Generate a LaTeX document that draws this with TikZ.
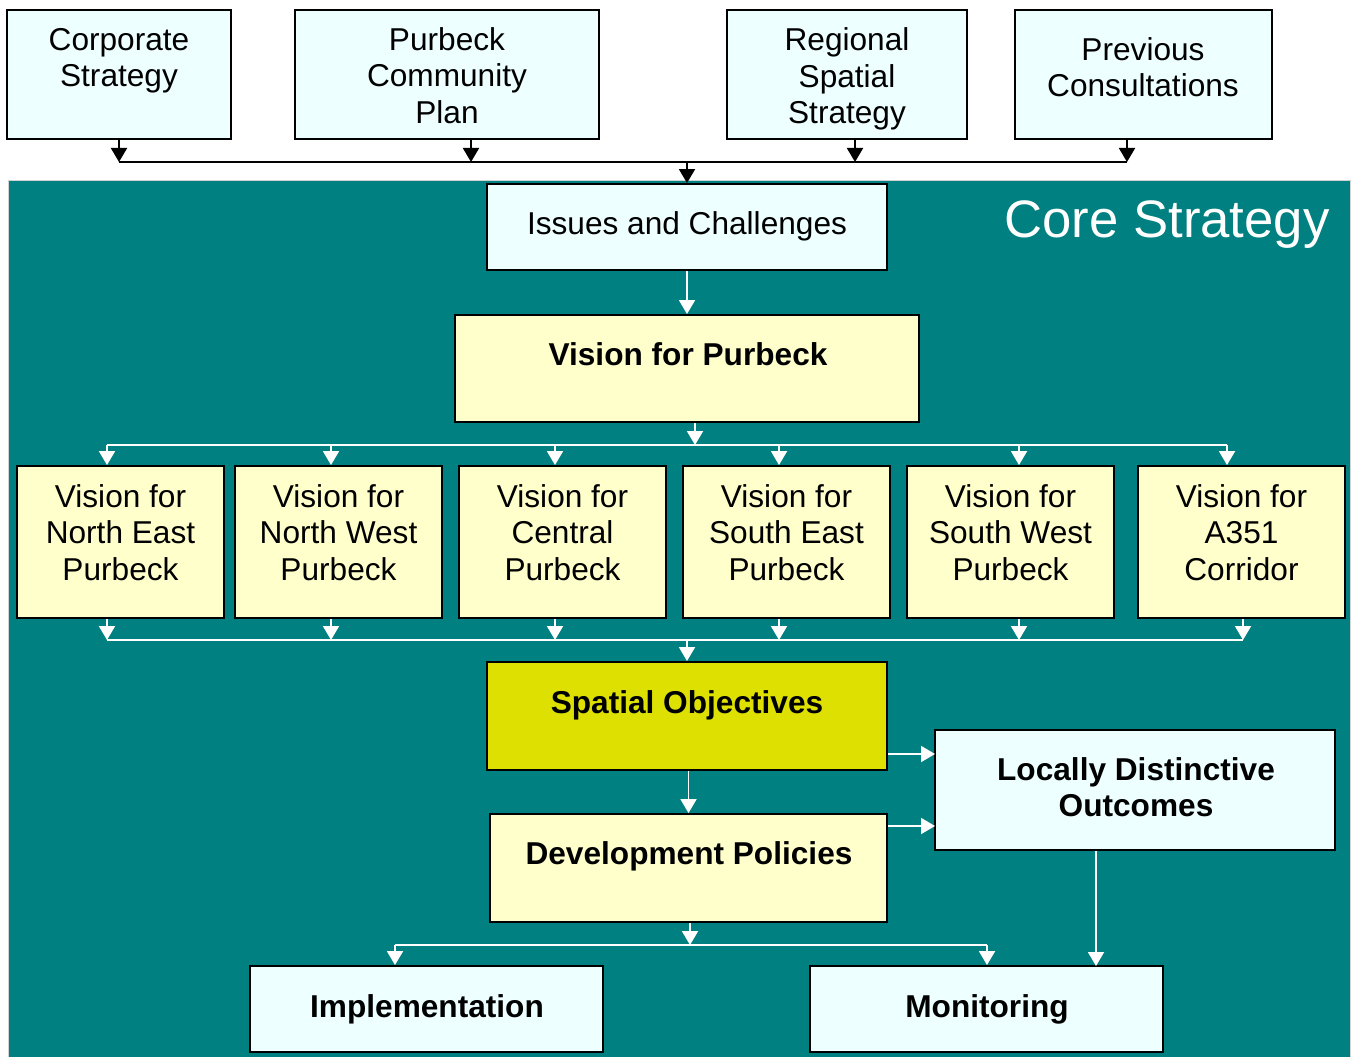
\documentclass[tikz,border=0pt]{standalone}
\usepackage{fontspec}
\setmainfont{Liberation Sans}
\usetikzlibrary{arrows.meta}

\definecolor{coreteal}{HTML}{008080}
\definecolor{paleblue}{HTML}{EEFFFF}
\definecolor{paleyellow}{HTML}{FFFFCC}
\definecolor{objgreen}{HTML}{DDE000}

\begin{document}
\begin{tikzpicture}[x=0.02cm, y=-0.02cm,
	box/.style={draw=black, line width=1.1pt, inner sep=0pt},
	bluebox/.style={box, fill=paleblue},
	yellowbox/.style={box, fill=paleyellow},
	txt/.style={align=center, inner sep=0pt, font=\fontsize{18}{20.8}\selectfont},
	btxt/.style={txt, font=\fontsize{18}{20.8}\selectfont\bfseries},
	blk/.style={black, line width=1.1pt},
	blkarrow/.style={blk, -{Triangle[width=0.32cm,length=0.28cm]}},
	wht/.style={white, line width=1.1pt},
	whtarrow/.style={wht, -{Triangle[width=0.32cm,length=0.28cm]}}]
	%\draw[help lines] (0,0) grid[step=1cm] (1355,1057);
	\useasboundingbox (0,0) rectangle (1355,1057);
	\fill[coreteal, draw=gray!35, line width=0.4pt] (8,180) rectangle (1350,1057);
	\node[txt, text=white, font=\fontsize{30}{34}\selectfont] (coretitle) at (1167,224.5) {Core Strategy};

	% inputs
	\node[bluebox, minimum width=4.48cm, minimum height=2.58cm] (corp) at (119,74.5) {};
	\node[bluebox, minimum width=6.08cm, minimum height=2.58cm] (pcp) at (447,74.5) {};
	\node[bluebox, minimum width=4.8cm, minimum height=2.58cm] (rss) at (847,74.5) {};
	\node[bluebox, minimum width=5.14cm, minimum height=2.58cm] (prev) at (1143.5,74.5) {};
	\node[txt] (corpT) at (119,60.6) {Corporate\\Strategy};
	\node[txt] (pcpT) at (447,75.6) {Purbeck\\Community\\Plan};
	\node[txt] (rssT) at (847,78.9) {Regional\\Spatial\\Strategy};
	\node[txt] (prevT) at (1143,67.3) {Previous\\Consultations};

	% core boxes
	\node[bluebox, minimum width=8cm, minimum height=1.72cm] (issues) at (687,227) {};
	\node[txt] (issuesT) at (687,226.4) {Issues and Challenges};
	\node[yellowbox, minimum width=9.28cm, minimum height=2.14cm] (vision) at (687,368.5) {};
	\node[btxt] (visionT) at (688,354) {Vision for Purbeck};

	% area visions
	\node[yellowbox, minimum width=4.14cm, minimum height=3.04cm] (ne) at (120.5,542) {};
	\node[yellowbox, minimum width=4.14cm, minimum height=3.04cm] (nw) at (338.5,542) {};
	\node[yellowbox, minimum width=4.14cm, minimum height=3.04cm] (central) at (562.5,542) {};
	\node[yellowbox, minimum width=4.14cm, minimum height=3.04cm] (se) at (786.5,542) {};
	\node[yellowbox, minimum width=4.14cm, minimum height=3.04cm] (sw) at (1010.5,542) {};
	\node[yellowbox, minimum width=4.14cm, minimum height=3.04cm] (a351) at (1241.5,542) {};
	\node[txt] (neT) at (120.5,532.5) {Vision for\\North East\\Purbeck};
	\node[txt] (nwT) at (338.5,532.5) {Vision for\\North West\\Purbeck};
	\node[txt] (centralT) at (562.5,532.5) {Vision for\\Central\\Purbeck};
	\node[txt] (seT) at (786.5,532.5) {Vision for\\South East\\Purbeck};
	\node[txt] (swT) at (1010.5,532.5) {Vision for\\South West\\Purbeck};
	\node[txt] (a351T) at (1241.5,532.5) {Vision for\\A351\\Corridor};

	\node[box, fill=objgreen, minimum width=8cm, minimum height=2.16cm] (spatial) at (687,716) {};
	\node[btxt] (spatialT) at (687,705.4) {Spatial Objectives};
	\node[yellowbox, minimum width=7.94cm, minimum height=2.16cm] (dev) at (688.5,868) {};
	\node[btxt] (devT) at (689,856.4) {Development Policies};
	\node[bluebox, minimum width=8cm, minimum height=2.4cm] (local) at (1135,790) {};
	\node[btxt] (localT) at (1136,787.3) {Locally Distinctive\\Outcomes};
	\node[bluebox, minimum width=7.06cm, minimum height=1.72cm] (impl) at (426.5,1009) {};
	\node[btxt] (implT) at (427,1009.4) {Implementation};
	\node[bluebox, minimum width=7.06cm, minimum height=1.72cm] (mon) at (986.5,1009) {};
	\node[btxt] (monT) at (987,1009.4) {Monitoring};

	% bus points
	\coordinate (top1) at (119,162);
	\coordinate (top2) at (471,162);
	\coordinate (top3) at (855,162);
	\coordinate (top4) at (1127,162);
	\coordinate (feed) at (695,445);
	\coordinate (in1) at (107,445);
	\coordinate (in2) at (331,445);
	\coordinate (in3) at (555,445);
	\coordinate (in4) at (779,445);
	\coordinate (in5) at (1019,445);
	\coordinate (in6) at (1227,445);
	\coordinate (out1) at (107,640);
	\coordinate (out2) at (331,640);
	\coordinate (out3) at (555,640);
	\coordinate (out4) at (779,640);
	\coordinate (out5) at (1019,640);
	\coordinate (out6) at (1243,640);
	\coordinate (tolocal1) at (935,754);
	\coordinate (tolocal2) at (935,826);
	\coordinate (split) at (690,945);
	\coordinate (toimpl) at (395,945);
	\coordinate (tomon) at (987,945);
	\coordinate (drop) at (1096,966);

	% black feeds into the core strategy
	\draw [blkarrow] (top1 |- corp.south)--(top1);
	\draw [blkarrow] (top2 |- pcp.south)--(top2);
	\draw [blkarrow] (top3 |- rss.south)--(top3);
	\draw [blkarrow] (top4 |- prev.south)--(top4);
	\draw [blk] (top1)--(top4);
	\draw [blkarrow] (top1 -| issues.north)--(issues.north);

	% white flow inside
	\draw [whtarrow] (issues.south)--(vision.north);
	\draw [whtarrow] (feed |- vision.south)--(feed);
	\draw [wht] (in1)--(in6);
	\draw [whtarrow] (in1)--(in1 |- ne.north);
	\draw [whtarrow] (in2)--(in2 |- nw.north);
	\draw [whtarrow] (in3)--(in3 |- central.north);
	\draw [whtarrow] (in4)--(in4 |- se.north);
	\draw [whtarrow] (in5)--(in5 |- sw.north);
	\draw [whtarrow] (in6)--(in6 |- a351.north);
	\draw [whtarrow] (out1 |- ne.south)--(out1);
	\draw [whtarrow] (out2 |- nw.south)--(out2);
	\draw [whtarrow] (out3 |- central.south)--(out3);
	\draw [whtarrow] (out4 |- se.south)--(out4);
	\draw [whtarrow] (out5 |- sw.south)--(out5);
	\draw [whtarrow] (out6 |- a351.south)--(out6);
	\draw [wht] (out1)--(out6);
	\draw [whtarrow] (out1 -| spatial.north)--(spatial.north);
	\draw [whtarrow] (dev.north |- spatial.south)--(dev.north);
	\draw [whtarrow] (tolocal1 -| spatial.east)--(tolocal1);
	\draw [whtarrow] (tolocal2 -| dev.east)--(tolocal2);
	\draw [whtarrow] (split |- dev.south)--(split);
	\draw [wht] (toimpl)--(tomon);
	\draw [whtarrow] (toimpl)--(toimpl |- impl.north);
	\draw [whtarrow] (tomon)--(tomon |- mon.north);
	\draw [whtarrow] (drop |- local.south)--(drop);
\end{tikzpicture}
\end{document}
